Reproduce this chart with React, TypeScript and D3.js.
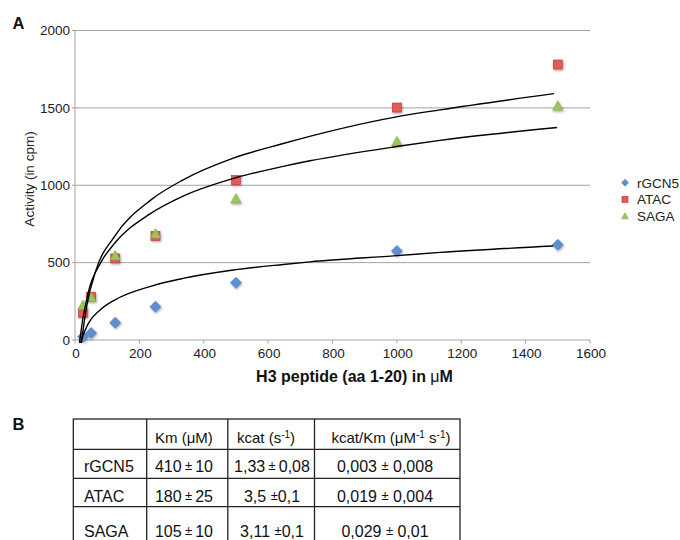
import React from "react";
import * as d3 from "d3";

// ---- Data ----
const CONC = [25, 50, 125, 250, 500, 1000, 1500];
const RGCN5 = [21, 45, 112, 215, 370, 575, 615];
const ATAC = [176, 280, 527, 673, 1033, 1502, 1780];
const SAGA = [224, 276, 545, 686, 912, 1282, 1512];

// trend lines
const FIT_UPPER_X = [18, 21, 36, 65, 123, 235, 336, 492, 647, 999, 1134, 1488];
const FIT_UPPER_Y = [-50, 0, 215, 450, 670, 904, 1035, 1175, 1270, 1442, 1487, 1592];
const FIT_LOWER_X = [12, 15, 41, 80, 123, 233, 336, 492, 647, 730, 999, 1134, 1498];
const FIT_LOWER_Y = [-60, 0, 305, 500, 625, 815, 930, 1044, 1122, 1158, 1250, 1290, 1373];
const FIT_BOTTOM_X = [16, 20, 41, 78, 123, 240, 336, 492, 647, 730, 999, 1134, 1486];
const FIT_BOTTOM_Y = [-30, 0, 106, 194, 258, 350, 398, 452, 488, 505, 545, 566, 607];

const X_TICKS = [0, 200, 400, 600, 800, 1000, 1200, 1400, 1600];
const Y_TICKS = [0, 500, 1000, 1500, 2000];

const SERIES_NAMES = ["rGCN5", "ATAC", "SAGA"];

// table
const TABLE_HEAD = ["", "Km", "kcat", "kcat/Km"];
const TABLE_ROWS = ["rGCN5", "ATAC", "SAGA"];
const KM_VAL = ["410\u2009", "180\u2009", "105\u2009"];
const KM_ERR = ["\u200910", "\u200925", "\u200910"];
const KCAT_VAL = ["1,33\u2009", "3,5  ", "3,11 "];
const KCAT_ERR = ["\u20090,08", "0,1", "0,1"];
const EFF_VAL = ["0,003 ", "0,019 ", "0,029 "];
const EFF_ERR = [" 0,008", " 0,004", "  0,01"];

const FONT = "'Liberation Sans', Arial, Helvetica, sans-serif";

const COLORS = {
  rGCN5: { fill: "#5b8fd4", stroke: "#4877bb" },
  ATAC: { fill: "#e35a5a", stroke: "#c23c3c" },
  SAGA: { fill: "#9dc45c", stroke: "#80a844" },
};

function Marker({ kind, cx, cy, s }: { kind: string; cx: number; cy: number; s: number }) {
  const c = (COLORS as any)[kind];
  if (kind === "rGCN5") {
    const r = s * 0.58;
    const d = `M${cx},${cy - r}L${cx + r},${cy}L${cx},${cy + r}L${cx - r},${cy}Z`;
    return <path d={d} fill={c.fill} stroke={c.stroke} strokeWidth={0.6} />;
  }
  if (kind === "ATAC") {
    const h = s / 2;
    return (
      <rect x={cx - h} y={cy - h} width={s} height={s} fill={c.fill} stroke={c.stroke} strokeWidth={0.7} />
    );
  }
  const w = s * 1.1;
  const hh = s;
  const d = `M${cx},${cy - hh * 0.55}L${cx + w / 2},${cy + hh * 0.45}L${cx - w / 2},${cy + hh * 0.45}Z`;
  return <path d={d} fill={c.fill} stroke={c.stroke} strokeWidth={0.6} />;
}

export default function App() {
  const W = 680;
  const H = 540;
  const x = d3.scaleLinear().domain([0, 1600]).range([75, 590]);
  const y = d3.scaleLinear().domain([0, 2000]).range([340, 30.5]);

  const series = [
    { name: "rGCN5", vals: RGCN5 },
    { name: "ATAC", vals: ATAC },
    { name: "SAGA", vals: SAGA },
  ];

  const line = d3
    .line<[number, number]>()
    .x((d) => x(d[0]))
    .y((d) => y(d[1]))
    .curve(d3.curveMonotoneX);

  const fits = [
    d3.zip(FIT_UPPER_X, FIT_UPPER_Y) as [number, number][],
    d3.zip(FIT_LOWER_X, FIT_LOWER_Y) as [number, number][],
    d3.zip(FIT_BOTTOM_X, FIT_BOTTOM_Y) as [number, number][],
  ];

  const gridColor = "#a3a3a3";

  // table geometry
  const tLeft = 73.3;
  const tRight = 460;
  const tTop = 419;
  const tBottom = 548;
  const colX = [146.7, 227.8, 314.5];
  const rowY = [449.3, 478.3, 506.7];
  const rowBase = [471.5, 501.5, 536.5];

  const pm = (v: string, e: string) => (
    <>
      {v}
      <tspan fontSize={13} dy={-1.5}>±</tspan>
      <tspan dy={1.5}>{e}</tspan>
    </>
  );

  return (
    <svg
      width={W}
      height={H}
      style={{ position: "absolute", left: 0, top: 0, background: "#fff" }}
      fontFamily={FONT}
    >
      <defs>
        <filter id="sh" x="-50%" y="-50%" width="200%" height="200%">
          <feDropShadow dx="0.8" dy="1.2" stdDeviation="0.8" floodColor="#000" floodOpacity="0.35" />
        </filter>
        <clipPath id="plotclip">
          <rect x={75} y={25} width={520} height={318} />
        </clipPath>
      </defs>

      {/* panel letters */}
      <text x={12.5} y={29.3} fontSize={16.5} fontWeight="bold" fill="#111">A</text>
      <text x={12.5} y={429.5} fontSize={16.5} fontWeight="bold" fill="#111">B</text>

      {/* grid lines */}
      {Y_TICKS.filter((t) => t > 0).map((t) => (
        <line key={t} x1={72} x2={590} y1={y(t)} y2={y(t)} stroke={gridColor} strokeWidth={1} />
      ))}
      {/* axes */}
      <line x1={x(0)} x2={x(0)} y1={y(2000)} y2={y(0)} stroke={gridColor} strokeWidth={1} />
      <line x1={72} x2={590} y1={y(0)} y2={y(0)} stroke={gridColor} strokeWidth={1} />
      {X_TICKS.map((t) => (
        <line key={t} x1={x(t)} x2={x(t)} y1={y(0)} y2={y(0) + 3.5} stroke={gridColor} strokeWidth={1} />
      ))}

      {/* tick labels */}
      {Y_TICKS.map((t) => (
        <text key={t} x={70} y={y(t) + 4.8} fontSize={13.5} textAnchor="end" fill="#222">
          {t}
        </text>
      ))}
      {X_TICKS.map((t) => (
        <text key={t} x={x(t) + 1} y={358} fontSize={13.5} textAnchor="middle" fill="#222">
          {t}
        </text>
      ))}

      {/* axis titles */}
      <text x={354.5} y={382} fontSize={16} fontWeight="bold" textAnchor="middle" fill="#111">
        H3 peptide (aa 1-20) in <tspan fontWeight="normal">μ</tspan>M
      </text>
      <text
        transform={`translate(33.5,179) rotate(-90)`}
        fontSize={13.5}
        textAnchor="middle"
        fill="#222"
      >
        Activity (in cpm)
      </text>

      {/* markers */}
      <g filter="url(#sh)">
        {series.map((s) =>
          s.vals.map((v, i) => (
            <Marker key={s.name + i} kind={s.name} cx={x(CONC[i])} cy={y(v)} s={s.name === "ATAC" ? 9 : 9.5} />
          ))
        )}
      </g>

      {/* trend lines */}
      <g clipPath="url(#plotclip)">
        {fits.map((f, i) => (
          <path key={i} d={line(f) || ""} fill="none" stroke="#000" strokeWidth={1.4} />
        ))}
      </g>

      {/* legend */}
      {SERIES_NAMES.map((n, i) => {
        const cy = 182.7 + i * 16.7;
        return (
          <g key={n}>
            <Marker kind={n} cx={625} cy={cy} s={6} />
            <text x={637} y={cy + 4.8} fontSize={13.5} fill="#222">
              {n}
            </text>
          </g>
        );
      })}

      {/* table */}
      <g stroke="#222" strokeWidth={1.3} fill="none">
        <rect x={tLeft} y={tTop} width={tRight - tLeft} height={tBottom - tTop} />
        {colX.map((cx) => (
          <line key={cx} x1={cx} x2={cx} y1={tTop} y2={tBottom} />
        ))}
        {rowY.map((ry) => (
          <line key={ry} x1={tLeft} x2={tRight} y1={ry} y2={ry} />
        ))}
      </g>
      <g fontSize={15} fill="#111">
        <text x={155} y={442.5}>
          {TABLE_HEAD[1]} (μM)
        </text>
        <text x={266} y={442.5} textAnchor="middle">
          {TABLE_HEAD[2]} (s<tspan dy={-5} fontSize={10}>-1</tspan>
          <tspan dy={5}>)</tspan>
        </text>
        <text x={391} y={442.5} textAnchor="middle">
          {TABLE_HEAD[3]} (μM<tspan dy={-5} fontSize={10}>-1</tspan>
          <tspan dy={5}> s</tspan>
          <tspan dy={-5} fontSize={10}>-1</tspan>
          <tspan dy={5}>)</tspan>
        </text>
      </g>
      <g fontSize={16} fill="#111" style={{ whiteSpace: "pre" }}>
        {TABLE_ROWS.map((r, i) => (
          <g key={r}>
            <text x={84} y={rowBase[i]}>{r}</text>
            <text x={184} y={rowBase[i]} textAnchor="middle">
              {pm(KM_VAL[i], KM_ERR[i])}
            </text>
            <text x={272} y={rowBase[i]} textAnchor="middle">
              {pm(KCAT_VAL[i], KCAT_ERR[i])}
            </text>
            <text x={385} y={rowBase[i]} textAnchor="middle">
              {pm(EFF_VAL[i], EFF_ERR[i])}
            </text>
          </g>
        ))}
      </g>
    </svg>
  );
}
